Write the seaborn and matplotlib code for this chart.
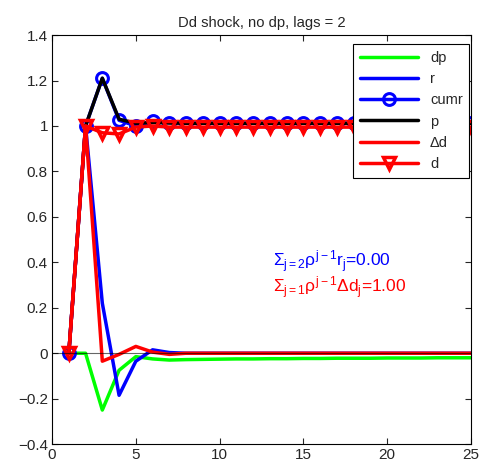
import numpy as np
import pandas as pd
import matplotlib
matplotlib.use("Agg")
import matplotlib.pyplot as plt
import seaborn as sns
from matplotlib.ticker import FuncFormatter

sns.set_style("white")
plt.rcParams['font.family'] = ['Liberation Sans', 'DejaVu Sans']
plt.rcParams['mathtext.fontset'] = 'custom'
plt.rcParams['mathtext.rm'] = 'Liberation Sans'
plt.rcParams['mathtext.it'] = 'Liberation Sans'

periods = list(range(1, 26))
dp = [0, 0, -0.25, -0.075, -0.015, -0.025, -0.03, -0.028, -0.027, -0.026, -0.025, -0.025,
      -0.024, -0.024, -0.023, -0.023, -0.022, -0.022, -0.022, -0.021, -0.021, -0.021,
      -0.02, -0.02, -0.02]
r = [0, 1.0, 0.22, -0.185, -0.035, 0.015, 0.003, 0, 0, 0, 0, 0, 0, 0, 0, 0, 0, 0, 0, 0,
     0, 0, 0, 0, 0]
cumr = [0, 1.0, 1.21, 1.025, 1.0, 1.02, 1.015, 1.012, 1.012, 1.012, 1.012, 1.012, 1.012,
        1.012, 1.012, 1.012, 1.012, 1.012, 1.012, 1.012, 1.012, 1.012, 1.012, 1.012, 1.012]
p = [0, 1.0, 1.21, 1.03, 1.012, 1.015, 1.013, 1.012, 1.012, 1.012, 1.012, 1.012, 1.012,
     1.012, 1.012, 1.012, 1.012, 1.012, 1.012, 1.012, 1.012, 1.012, 1.012, 1.012, 1.012]
dd = [0, 1.0, -0.035, -0.005, 0.03, 0.005, -0.005, 0, 0, 0, 0, 0, 0, 0, 0, 0, 0, 0, 0, 0,
      0, 0, 0, 0, 0]
d = [0, 1.0, 0.97, 0.965, 0.995, 1.0, 0.995, 0.995, 0.995, 0.995, 0.995, 0.995, 0.995,
     0.995, 0.995, 0.995, 0.995, 0.995, 0.995, 0.995, 0.995, 0.995, 0.995, 0.995, 0.995]

title = "Dd shock, no dp, lags = 2"
xticks = [0, 5, 10, 15, 20, 25]
yticks = [-0.4, -0.2, 0, 0.2, 0.4, 0.6, 0.8, 1.0, 1.2, 1.4]

fig = plt.figure(figsize=(4.82, 4.74), dpi=100)
ax = fig.add_axes([0.108, 0.063, 0.869, 0.863])

lw = 2.5
sns.lineplot(x=periods, y=dp, color=(0, 1, 0), lw=lw, label='dp', ax=ax)
sns.lineplot(x=periods, y=r, color=(0, 0, 1), lw=lw, label='r', ax=ax)
sns.lineplot(x=periods, y=cumr, color=(0, 0, 1), lw=lw, marker='o', ms=8.5,
             mfc='none', mec=(0, 0, 1), mew=2.2, label='cumr', ax=ax)
sns.lineplot(x=periods, y=p, color='k', lw=lw, label='p', ax=ax)
sns.lineplot(x=periods, y=dd, color=(1, 0, 0), lw=lw, label='Δd', ax=ax)
sns.lineplot(x=periods, y=d, color=(1, 0, 0), lw=lw, marker='v', ms=8.5,
             mfc='none', mec=(1, 0, 0), mew=2.5, label='d', ax=ax)
ax.axhline(0, color='k', lw=0.8, alpha=0.6, zorder=5)

ax.set_xlim(0, 25)
ax.set_ylim(-0.4, 1.4)
ax.set_xticks(xticks)
ax.set_yticks(yticks)
fmt = FuncFormatter(lambda v, pos: ('%g' % round(v, 2)).replace('-', '\u2212'))
ax.yaxis.set_major_formatter(fmt)
ax.xaxis.set_major_formatter(fmt)
ax.tick_params(direction='in', length=4, width=0.8, labelsize=11,
               top=True, right=True, bottom=True, left=True, pad=3)
for s in ax.spines.values():
    s.set_color('k')
    s.set_linewidth(0.8)
ax.set_title(title, fontsize=10.6, pad=6)

ax.text(13.2, 0.38, r'$\Sigma_{j=2}\rho^{j-1}r_j$=0.00', color=(0, 0, 1), fontsize=12.5)
ax.text(13.2, 0.265, r'$\Sigma_{j=1}\rho^{j-1}\Delta d_j$=1.00', color=(1, 0, 0), fontsize=12.5)

leg = ax.legend(loc='upper right', bbox_to_anchor=(0.996, 0.978), borderaxespad=0,
                fontsize=10.5, handlelength=4.0, labelspacing=0.5, borderpad=0.45,
                fancybox=False, framealpha=1, edgecolor='k', handletextpad=0.8)
leg.get_frame().set_linewidth(0.8)

fig.savefig('out.png', dpi=100)
